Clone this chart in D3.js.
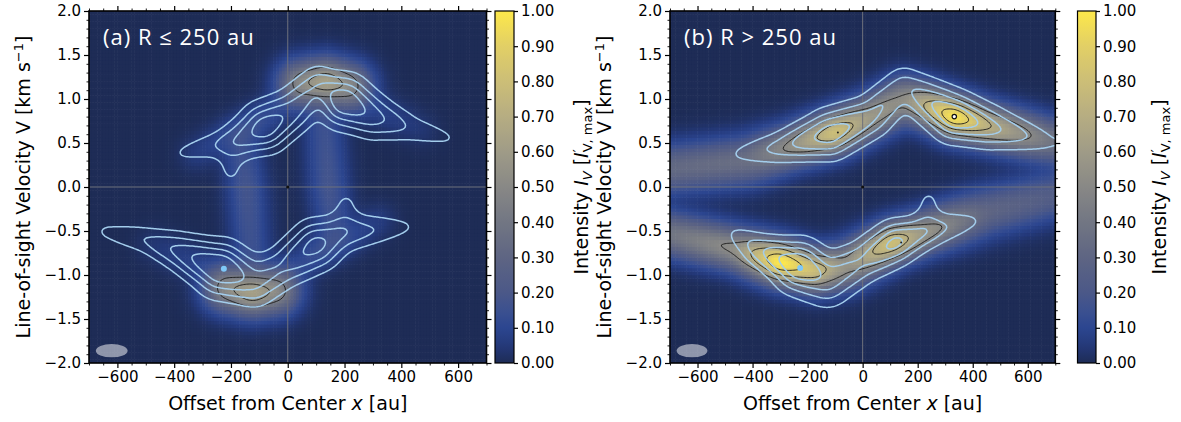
<!DOCTYPE html>
<html lang="en">
<head>
  <meta charset="UTF-8">
  <title>pv diagrams</title>
  <script src="https://cdn.jsdelivr.net/npm/d3@7"></script>
  <style>
    body { margin: 0; background: #fff; }
    svg { display: block; }
    text { font-family: "DejaVu Sans", sans-serif; fill: #000; }
  </style>
</head>
<body>
<svg id="chart" width="1181" height="422"></svg>
<script>
  // ---- data ----
  const xTicks = [-600, -400, -200, 0, 200, 400, 600];
  const vTicks = [-2, -1.5, -1, -0.5, 0, 0.5, 1, 1.5, 2];
  const cbTicks = [0, 0.1, 0.2, 0.3, 0.4, 0.5, 0.6, 0.7, 0.8, 0.9, 1];
  const titles = ['(a) R ≤ 250 au', '(b) R > 250 au'];

  // emission ridges, each a list of [x au, v km/s, intensity, width au]
  const modelInner = [
    [[50, 1.18, 0.48, 55], [135, 1.2, 0.6, 55], [215, 1.15, 0.48, 55]],
    [[-215, -1.15, 0.48, 55], [-125, -1.2, 0.6, 55], [-40, -1.18, 0.48, 55]],
    [[-165, 0.55, 0.13, 45], [-145, 0, 0.17, 45], [-125, -0.85, 0.14, 45]],
    [[125, 0.85, 0.14, 45], [145, 0, 0.17, 45], [165, -0.55, 0.13, 45]],
    [[-320, 0.38, 0.06, 40], [-120, 0.72, 0.14, 40], [10, 1.0, 0.08, 40]],
    [[250, 0.98, 0.1, 40], [470, 0.66, 0.04, 40]],
    [[320, -0.38, 0.06, 40], [120, -0.72, 0.14, 40], [-10, -1.0, 0.08, 40]],
    [[-250, -0.98, 0.1, 40], [-470, -0.66, 0.04, 40]]
  ];
  const obsInner = [
    [[-385, 0.38, 0.16, 26], [-250, 0.48, 0.29, 31], [-170, 0.53, 0.45, 45], [-80, 0.68, 0.68, 55],
      [15, 0.86, 0.5, 50], [110, 1.15, 0.42, 45], [200, 0.97, 0.72, 58], [300, 0.8, 0.5, 50],
      [440, 0.66, 0.25, 34], [575, 0.55, 0.16, 27]],
    [[-208, 0.45, 0.2, 34], [-200, 0.16, 0.18, 32]],
    [[-655, -0.5, 0.17, 26], [-500, -0.6, 0.31, 31], [-390, -0.72, 0.47, 42], [-235, -0.93, 0.76, 60],
      [-120, -1.08, 0.47, 55], [-20, -0.92, 0.43, 48], [100, -0.66, 0.64, 55], [190, -0.52, 0.42, 45],
      [430, -0.45, 0.16, 26]],
    [[200, -0.47, 0.2, 34], [206, -0.17, 0.18, 32]]
  ];
  const modelOuter = [
    [[-720, 0.2, 0.3, 60], [-420, 0.3, 0.33, 60], [-260, 0.46, 0.5, 52], [-100, 0.62, 0.77, 52],
      [30, 0.8, 0.55, 52], [150, 1.0, 0.48, 55], [240, 0.92, 0.7, 52], [333, 0.8, 0.95, 52],
      [450, 0.7, 0.68, 52], [720, 0.5, 0.33, 55]],
    [[-720, -0.52, 0.36, 55], [-460, -0.7, 0.5, 52], [-300, -0.85, 0.97, 52], [-170, -0.95, 0.74, 52],
      [-60, -0.9, 0.5, 55], [110, -0.63, 0.78, 50], [220, -0.52, 0.55, 50], [450, -0.28, 0.28, 60],
      [720, -0.08, 0.22, 60]]
  ];
  const obsOuter = [
    [[-465, 0.37, 0.16, 26], [-300, 0.45, 0.36, 38], [-120, 0.6, 0.66, 55], [30, 0.8, 0.46, 50],
      [150, 1.15, 0.37, 45], [333, 0.8, 0.72, 56], [460, 0.68, 0.49, 50], [695, 0.5, 0.16, 28]],
    [[-475, -0.52, 0.16, 26], [-380, -0.7, 0.39, 38], [-230, -0.9, 0.74, 60], [-130, -1.06, 0.5, 60],
      [0, -0.85, 0.43, 50], [120, -0.63, 0.62, 50], [230, -0.5, 0.39, 42], [415, -0.38, 0.16, 26]],
    [[235, -0.5, 0.22, 34], [240, -0.14, 0.18, 32]]
  ];
  const obsLevels = [0.15, 0.3, 0.45, 0.6];
  const modelLevelsInner = [0.42, 0.55];
  const modelLevelsOuter = [0.5, 0.7, 0.88];
  const obsPeaks = [[[-225, -0.93]], [[-227, -0.92]]];
  const modelPeaks = [[], [[333, 0.8]]];
  const modelSpots = [[], [[-90, 0.62], [140, -0.63]]];
  const beam = [-620, -1.86, 56, 0.076];   // centre x, v, half axes (au, km/s)

  const cmapStops = [0, 0.05, 0.1, 0.15, 0.2, 0.3, 0.4, 0.5, 0.6, 0.7, 0.8, 0.9, 1];
  const cmapColors = ['#1e2c56', '#24397a', '#2c4690', '#3c5190', '#4b5888', '#5e6583',
    '#727683', '#888886', '#9f9b87', '#b6ad82', '#ccbe77', '#e2cf66', '#fde84a'];

  // ---- drawing ----
  const svg = d3.select('#chart');
  const yTop = 11, yBot = 363;
  const color = d3.scaleLinear().domain(cmapStops).range(cmapColors).clamp(true);

  const panels = [
    {left: 89, right: 486.5, cbL: 495, cbR: 514, yLab: 30, cbLab: 588,
      model: modelInner, obs: obsInner, mLevels: modelLevelsInner},
    {left: 670, right: 1055.3, cbL: 1077.5, cbR: 1096, yLab: 611, cbLab: 1166,
      model: modelOuter, obs: obsOuter, mLevels: modelLevelsOuter}
  ];

  // each ridge: max over its segments; ridges combined in quadrature.
  // velocity scaled to on-screen au-equivalent with k
  const ridgeField = (ridges, k) => (x, v) => {
    let s = 0;
    for (const pts of ridges) {
      let a = 0;
      for (let i = 0; i < pts.length - 1; i++) {
        const [x1, v1, i1, w1] = pts[i], [x2, v2, i2, w2] = pts[i + 1];
        const bx = x2 - x1, by = (v2 - v1) * k;
        const px = x - x1, py = (v - v1) * k;
        const L = bx * bx + by * by;
        const t = L > 0 ? Math.max(0, Math.min(1, (px * bx + py * by) / L)) : 0;
        const dx = px - t * bx, dy = py - t * by;
        const w = w1 + t * (w2 - w1);
        const val = (i1 + t * (i2 - i1)) * Math.exp(-(dx * dx + dy * dy) / (2 * w * w));
        if (val > a) a = val;
      }
      s += a * a;
    }
    return Math.sqrt(s);
  };

  // separable box blur, run twice, to round off the ridge corners
  const blur = (src, nx, ny, rx, ry) => {
    let a = Float64Array.from(src), b = new Float64Array(src.length);
    for (let pass = 0; pass < 2; pass++) {
      for (let j = 0; j < ny; j++) {
        for (let i = 0; i < nx; i++) {
          let s = 0;
          for (let d = -rx; d <= rx; d++) s += a[Math.min(nx - 1, Math.max(0, i + d)) + j * nx];
          b[i + j * nx] = s / (2 * rx + 1);
        }
      }
      for (let j = 0; j < ny; j++) {
        for (let i = 0; i < nx; i++) {
          let s = 0;
          for (let d = -ry; d <= ry; d++) s += b[i + Math.min(ny - 1, Math.max(0, j + d)) * nx];
          a[i + j * nx] = 1.06 * s / (2 * ry + 1);
        }
      }
    }
    return a;
  };

  const xMinor = d3.range(-700, 701, 50).filter(d => d % 200 !== 0);
  const vMinor = d3.range(-20, 21).map(d => d / 10).filter(d => Math.round(d * 10) % 5 !== 0);

  panels.forEach((p, pi) => {
    const x = d3.scaleLinear().domain([-700, 700]).range([p.left, p.right]);
    const y = d3.scaleLinear().domain([-2, 2]).range([yBot, yTop]);
    const k = (y(0) - y(1)) / (x(1) - x(0));
    const fModel = ridgeField(p.model, k);
    const fObs = ridgeField(p.obs, k);

    // fine grids for both maps
    const gx = 5, gv = 0.02;
    const nx = Math.round(1400 / gx) + 1, nv = Math.round(4 / gv) + 1;
    const rawM = new Float64Array(nx * nv), rawO = new Float64Array(nx * nv);
    for (let j = 0; j < nv; j++) {
      for (let i = 0; i < nx; i++) {
        const xx = -700 + i * gx, vv = 2 - j * gv;
        rawM[i + j * nx] = fModel(xx, vv);
        rawO[i + j * nx] = fObs(xx, vv);
      }
    }
    const vm = blur(rawM, nx, nv, 4, 3);
    const vo = blur(rawO, nx, nv, 4, 3);
    const at = (grid, xx, vv) => grid[Math.round((xx + 700) / gx) + Math.round((2 - vv) / gv) * nx];

    const clipId = 'clip' + pi;
    svg.append('clipPath').attr('id', clipId)
      .append('rect')
      .attr('x', p.left).attr('y', yTop)
      .attr('width', p.right - p.left).attr('height', yBot - yTop);

    const g = svg.append('g').attr('clip-path', `url(#${clipId})`);

    // heatmap cells
    const dx = 10, dv = 0.04;
    const cells = [];
    for (let cx = -700 + dx / 2; cx < 700; cx += dx) {
      for (let cv = -2 + dv / 2; cv < 2; cv += dv) {
        cells.push({x: cx, v: cv, val: at(vm, cx, cv)});
      }
    }
    const cw = x(dx) - x(0), ch = y(0) - y(dv);
    g.append('g')
      .selectAll('rect')
      .data(cells)
      .join('rect')
      .attr('x', d => x(d.x - dx / 2) - 0.3)
      .attr('y', d => y(d.v + dv / 2) - 0.3)
      .attr('width', cw + 0.6)
      .attr('height', ch + 0.6)
      .attr('fill', d => color(d.val));

    // zero lines
    g.append('line')
      .attr('x1', x(0)).attr('x2', x(0)).attr('y1', yTop).attr('y2', yBot)
      .attr('stroke', '#6f727c').attr('stroke-width', 1);
    g.append('line')
      .attr('x1', p.left).attr('x2', p.right).attr('y1', y(0)).attr('y2', y(0))
      .attr('stroke', '#6f727c').attr('stroke-width', 1);
    g.append('circle').attr('cx', x(0)).attr('cy', y(0)).attr('r', 1.6).attr('fill', '#111');

    const proj = d3.geoTransform({
      point(cx, cy) {
        this.stream.point(x(-700 + (cx - 0.5) * gx), y(2 - (cy - 0.5) * gv));
      }
    });
    const path = d3.geoPath(proj);

    g.append('g')
      .selectAll('path')
      .data(d3.contours().size([nx, nv]).thresholds(p.mLevels)(vm))
      .join('path')
      .attr('d', path)
      .attr('fill', 'none')
      .attr('stroke', '#1a1a1a')
      .attr('stroke-width', 0.9);

    g.append('g')
      .selectAll('path')
      .data(d3.contours().size([nx, nv]).thresholds(obsLevels)(vo))
      .join('path')
      .attr('d', path)
      .attr('fill', 'none')
      .attr('stroke', '#a3cdec')
      .attr('stroke-width', 1.5);

    g.selectAll('circle.opk')
      .data(obsPeaks[pi])
      .join('circle')
      .attr('class', 'opk')
      .attr('cx', d => x(d[0])).attr('cy', d => y(d[1]))
      .attr('r', 3).attr('fill', '#7fc8f8');

    g.selectAll('circle.mpk')
      .data(modelPeaks[pi])
      .join('circle')
      .attr('class', 'mpk')
      .attr('cx', d => x(d[0])).attr('cy', d => y(d[1]))
      .attr('r', 2.2).attr('fill', '#fff').attr('stroke', '#111').attr('stroke-width', 1.2);

    g.selectAll('circle.msp')
      .data(modelSpots[pi])
      .join('circle')
      .attr('class', 'msp')
      .attr('cx', d => x(d[0])).attr('cy', d => y(d[1]))
      .attr('r', 1).attr('fill', '#222');

    // beam
    g.append('ellipse')
      .attr('cx', x(beam[0])).attr('cy', y(beam[1]))
      .attr('rx', x(beam[2]) - x(0)).attr('ry', y(0) - y(beam[3]))
      .attr('fill', '#fff').attr('fill-opacity', 0.5);

    // title
    svg.append('text')
      .attr('x', p.left + 14).attr('y', 45)
      .style('font-family', '"Open Sans", Lato, sans-serif')
      .style('font-size', '22px')
      .style('letter-spacing', '1px')
      .style('fill', '#fff')
      .text(titles[pi]);

    // axes
    const styleAxis = (sel, size) => {
      sel.select('.domain').remove();
      sel.selectAll('line').attr('stroke', '#000').attr('stroke-width', size > 3 ? 1.2 : 0.9);
      sel.selectAll('text').style('font-size', '15px').style('font-family', '"DejaVu Sans", sans-serif');
    };
    const addAxis = (axis, tr, vals, size, fmt) => {
      const a = axis.tickValues(vals).tickSize(size).tickPadding(3);
      a.tickFormat(fmt || (() => ''));
      svg.append('g').attr('transform', tr).call(a).call(sel => styleAxis(sel, size));
    };
    addAxis(d3.axisBottom(x), `translate(0,${yBot})`, xTicks, 5, d3.format('d'));
    addAxis(d3.axisBottom(x), `translate(0,${yBot})`, xMinor, 2.5);
    addAxis(d3.axisTop(x), `translate(0,${yTop})`, xTicks, 5);
    addAxis(d3.axisTop(x), `translate(0,${yTop})`, xMinor, 2.5);
    addAxis(d3.axisLeft(y), `translate(${p.left},0)`, vTicks, 5, d3.format('.1f'));
    addAxis(d3.axisLeft(y), `translate(${p.left},0)`, vMinor, 2.5);
    addAxis(d3.axisRight(y), `translate(${p.right},0)`, vTicks, 5);
    addAxis(d3.axisRight(y), `translate(${p.right},0)`, vMinor, 2.5);

    svg.append('rect')
      .attr('x', p.left).attr('y', yTop)
      .attr('width', p.right - p.left).attr('height', yBot - yTop)
      .attr('fill', 'none').attr('stroke', '#000').attr('stroke-width', 1.6);

    // axis labels
    const xl = svg.append('text')
      .attr('x', x(0)).attr('y', 410)
      .attr('text-anchor', 'middle')
      .style('font-size', '19px');
    xl.append('tspan').text('Offset from Center ');
    xl.append('tspan').style('font-style', 'italic').text('x');
    xl.append('tspan').text(' [au]');

    const yl = svg.append('text')
      .attr('transform', `translate(${p.yLab},${(yTop + yBot) / 2}) rotate(-90)`)
      .attr('text-anchor', 'middle')
      .style('font-size', '19px');
    yl.append('tspan').text('Line-of-sight Velocity V [km s');
    yl.append('tspan').attr('dy', -7).style('font-size', '13px').text('−1');
    yl.append('tspan').attr('dy', 7).text(']');

    // colorbar
    const gradId = 'grad' + pi;
    const grad = svg.append('defs').append('linearGradient')
      .attr('id', gradId).attr('x1', 0).attr('x2', 0).attr('y1', 1).attr('y2', 0);
    grad.selectAll('stop')
      .data(d3.range(0, 1.0001, 0.02))
      .join('stop')
      .attr('offset', d => d)
      .attr('stop-color', d => color(d));
    const cy = d3.scaleLinear().domain([0, 1]).range([yBot, yTop]);
    svg.append('rect')
      .attr('x', p.cbL).attr('y', yTop)
      .attr('width', p.cbR - p.cbL).attr('height', yBot - yTop)
      .attr('fill', `url(#${gradId})`)
      .attr('stroke', '#000').attr('stroke-width', 1.2);
    addAxis(d3.axisRight(cy), `translate(${p.cbR},0)`, cbTicks, 4, d3.format('.2f'));

    const cl = svg.append('text')
      .attr('transform', `translate(${p.cbLab},${(yTop + yBot) / 2}) rotate(-90)`)
      .attr('text-anchor', 'middle')
      .style('font-size', '19px');
    cl.append('tspan').text('Intensity ');
    cl.append('tspan').style('font-style', 'italic').text('I');
    cl.append('tspan').attr('dy', 4).style('font-size', '13px').style('font-style', 'italic').text('V');
    cl.append('tspan').attr('dy', -4).text(' [');
    cl.append('tspan').style('font-style', 'italic').text('I');
    cl.append('tspan').attr('dy', -6).style('font-size', '13px').text('′');
    cl.append('tspan').attr('dy', 10).attr('dx', -3).style('font-size', '13px').text('V, max');
    cl.append('tspan').attr('dy', -4).text(']');
  });
</script>
</body>
</html>
